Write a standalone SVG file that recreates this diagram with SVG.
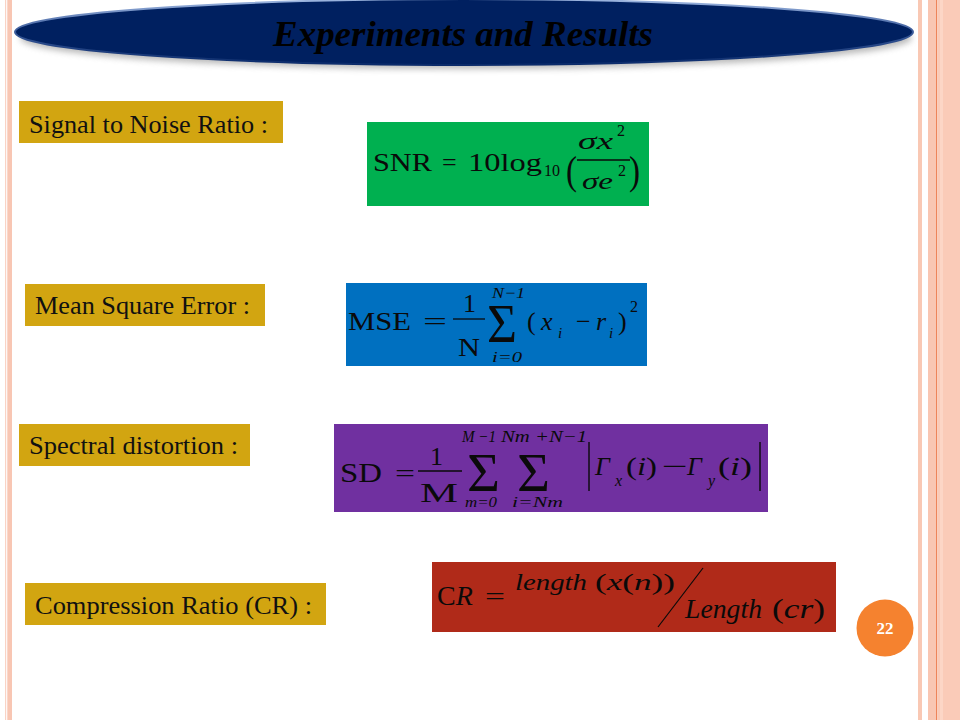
<svg xmlns="http://www.w3.org/2000/svg" width="960" height="720" viewBox="0 0 960 720">
<defs>
<filter id="sh" x="-10%" y="-30%" width="120%" height="170%"><feGaussianBlur stdDeviation="3"/></filter>
<linearGradient id="rim" x1="0" y1="0" x2="0" y2="1"><stop offset="0" stop-color="#9db6e0"/><stop offset="0.5" stop-color="#3a5a9a"/><stop offset="1" stop-color="#0a2a6a"/></linearGradient>
</defs>
<style>
.lbl{fill:#D2A511}
</style>
<rect x="0" y="0" width="960" height="720" fill="#ffffff"/>
<g id="borders">
<rect x="5" y="0" width="1.2" height="720" fill="#F9D3C5"/>
<rect x="7.3" y="0" width="4.7" height="720" fill="#F8C6B3"/>
<rect x="918" y="0" width="4" height="720" fill="#F9C8B4"/>
<rect x="928" y="0" width="8" height="720" fill="#F9C6B2"/>
<rect x="936" y="0" width="1.3" height="720" fill="#EE8459"/>
<rect x="937.3" y="0" width="22.7" height="720" fill="#FACBB8"/>
<rect x="940" y="0" width="3" height="720" fill="#FCD6C6"/>
</g>
<g id="title">
<ellipse cx="466" cy="38" rx="446" ry="31" fill="#8a8a8a" opacity="0.6" filter="url(#sh)"/>
<ellipse cx="464" cy="32" rx="449" ry="33" fill="#002060" stroke="url(#rim)" stroke-width="2"/>
<text x="463" y="46" text-anchor="middle" textLength="380" lengthAdjust="spacingAndGlyphs" font-family="Liberation Serif, Times New Roman, serif" font-size="35" font-weight="bold" font-style="italic" fill="#000">Experiments and Results</text>
</g>
<g id="label-snr">
<rect class="lbl" x="19" y="101" width="264" height="42"/>
<text x="29" y="133" font-family="Liberation Serif, Times New Roman, serif" font-size="25" fill="#111" textLength="239" lengthAdjust="spacingAndGlyphs">Signal to Noise Ratio :</text>
</g>
<g id="label-mse">
<rect class="lbl" x="25" y="284" width="240" height="42"/>
<text x="35" y="314" font-family="Liberation Serif, Times New Roman, serif" font-size="25" fill="#111" textLength="215" lengthAdjust="spacingAndGlyphs">Mean Square Error :</text>
</g>
<g id="label-sd">
<rect class="lbl" x="19" y="424" width="231" height="42"/>
<text x="29" y="454" font-family="Liberation Serif, Times New Roman, serif" font-size="25" fill="#111" textLength="209" lengthAdjust="spacingAndGlyphs">Spectral distortion :</text>
</g>
<g id="label-cr">
<rect class="lbl" x="25" y="583" width="301" height="42"/>
<text x="35" y="614" font-family="Liberation Serif, Times New Roman, serif" font-size="25" fill="#111" textLength="277" lengthAdjust="spacingAndGlyphs">Compression Ratio (CR) :</text>
</g>
<g id="formula-snr" font-family="Liberation Serif, Times New Roman, serif" fill="#0a0a0a">
<rect x="367" y="122" width="282" height="84" fill="#00B050"/>
<text x="373" y="171" font-size="26" textLength="59" lengthAdjust="spacingAndGlyphs">SNR</text>
<text x="442" y="171" font-size="26">=</text>
<text x="468" y="171" font-size="26" textLength="74" lengthAdjust="spacingAndGlyphs">10log</text>
<text x="544" y="176" font-size="16">10</text>
<text x="566" y="184" font-size="40" textLength="11" lengthAdjust="spacingAndGlyphs">(</text>
<text x="578" y="149" font-size="24" font-style="italic" textLength="35" lengthAdjust="spacingAndGlyphs">σx</text>
<text x="617" y="136" font-size="16">2</text>
<line x1="577" y1="160" x2="630" y2="160" stroke="#0a0a0a" stroke-width="1.3"/>
<text x="582" y="189" font-size="24" font-style="italic" textLength="31" lengthAdjust="spacingAndGlyphs">σe</text>
<text x="618" y="176" font-size="16">2</text>
<text x="629" y="184" font-size="40" textLength="11" lengthAdjust="spacingAndGlyphs">)</text>
</g>
<g id="formula-mse" font-family="Liberation Serif, Times New Roman, serif" fill="#0a0a0a">
<rect x="346" y="283" width="301" height="83" fill="#0070C0"/>
<text x="348" y="330" font-size="26" textLength="63" lengthAdjust="spacingAndGlyphs">MSE</text>
<text x="423" y="330" font-size="26" textLength="24" lengthAdjust="spacingAndGlyphs">=</text>
<text x="463" y="312" font-size="26">1</text>
<line x1="453" y1="319" x2="485" y2="319" stroke="#0a0a0a" stroke-width="1.3"/>
<text x="458" y="356" font-size="26" textLength="22" lengthAdjust="spacingAndGlyphs">N</text>
<text x="492" y="298" font-size="15" font-style="italic" textLength="33" lengthAdjust="spacingAndGlyphs">N−1</text>
<text x="487" y="342" font-size="54" textLength="30" lengthAdjust="spacingAndGlyphs">Σ</text>
<text x="492" y="362" font-size="15" font-style="italic" textLength="30" lengthAdjust="spacingAndGlyphs">i=0</text>
<text x="527" y="330" font-size="26">(</text>
<text x="541" y="330" font-size="26" font-style="italic">x</text>
<text x="558" y="338" font-size="15" font-style="italic">i</text>
<text x="576" y="330" font-size="26">−</text>
<text x="596" y="330" font-size="26" font-style="italic">r</text>
<text x="609" y="338" font-size="15" font-style="italic">i</text>
<text x="618" y="330" font-size="26">)</text>
<text x="630" y="312" font-size="16">2</text>
</g>
<g id="formula-sd" font-family="Liberation Serif, Times New Roman, serif" fill="#0a0a0a">
<rect x="334" y="424" width="434" height="88" fill="#7030A0"/>
<text x="340" y="482" font-size="28" textLength="42" lengthAdjust="spacingAndGlyphs">SD</text>
<text x="395" y="482" font-size="26" textLength="20" lengthAdjust="spacingAndGlyphs">=</text>
<text x="430" y="465" font-size="26">1</text>
<line x1="418" y1="471" x2="462" y2="471" stroke="#0a0a0a" stroke-width="1.3"/>
<text x="420" y="502" font-size="28" textLength="38" lengthAdjust="spacingAndGlyphs">M</text>
<text x="462" y="442" font-size="16" font-style="italic" textLength="34" lengthAdjust="spacingAndGlyphs">M −1</text>
<text x="467" y="491" font-size="54" textLength="33" lengthAdjust="spacingAndGlyphs">Σ</text>
<text x="465" y="507" font-size="14" font-style="italic" textLength="32" lengthAdjust="spacingAndGlyphs">m=0</text>
<text x="501" y="442" font-size="16" font-style="italic" textLength="86" lengthAdjust="spacingAndGlyphs">Nm +N−1</text>
<text x="517" y="491" font-size="54" textLength="33" lengthAdjust="spacingAndGlyphs">Σ</text>
<text x="512" y="507" font-size="14" font-style="italic" textLength="51" lengthAdjust="spacingAndGlyphs">i=Nm</text>
<line x1="589" y1="442" x2="589" y2="491" stroke="#0a0a0a" stroke-width="1.4"/>
<text x="595" y="475" font-size="26" font-style="italic">Γ</text>
<text x="615" y="486" font-size="16" font-style="italic">x</text>
<text x="626" y="475" font-size="26" textLength="31" lengthAdjust="spacingAndGlyphs">(<tspan font-style="italic">i</tspan>)</text>
<text x="662" y="475" font-size="26" textLength="26" lengthAdjust="spacingAndGlyphs">−</text>
<text x="687" y="475" font-size="26" font-style="italic">Γ</text>
<text x="708" y="486" font-size="16" font-style="italic">y</text>
<text x="718" y="475" font-size="26" textLength="34" lengthAdjust="spacingAndGlyphs">(<tspan font-style="italic">i</tspan>)</text>
<line x1="760" y1="442" x2="760" y2="491" stroke="#0a0a0a" stroke-width="1.4"/>
</g>
<g id="formula-cr" font-family="Liberation Serif, Times New Roman, serif" fill="#0a0a0a">
<rect x="432" y="562" width="404" height="70" fill="#B02A19"/>
<text x="437" y="605" font-size="28">C<tspan font-style="italic">R</tspan></text>
<text x="485" y="605" font-size="26" textLength="20" lengthAdjust="spacingAndGlyphs">=</text>
<text x="515" y="590" font-size="24" font-style="italic" textLength="72" lengthAdjust="spacingAndGlyphs">length</text>
<text x="595" y="590" font-size="24" textLength="80" lengthAdjust="spacingAndGlyphs">(<tspan font-style="italic">x</tspan>(<tspan font-style="italic">n</tspan>))</text>
<line x1="658" y1="627" x2="703" y2="568" stroke="#0a0a0a" stroke-width="1.2"/>
<text x="685" y="618" font-size="27" font-style="italic" textLength="77" lengthAdjust="spacingAndGlyphs">Length</text>
<text x="772" y="618" font-size="27" textLength="53" lengthAdjust="spacingAndGlyphs">(<tspan font-style="italic">cr</tspan>)</text>
</g>
<g id="page-number">
<circle cx="885" cy="628" r="28.5" fill="#F5822F"/>
<text x="885" y="634" text-anchor="middle" font-family="Liberation Serif, Times New Roman, serif" font-size="17" font-weight="bold" fill="#ffffff">22</text>
</g>
</svg>
